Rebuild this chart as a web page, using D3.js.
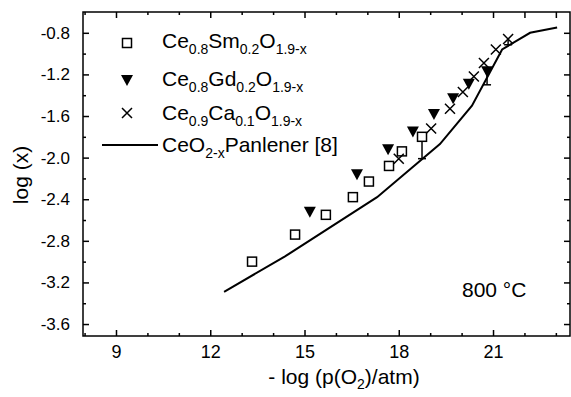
<!DOCTYPE html>
<html><head><meta charset="utf-8">
<script src="https://cdn.jsdelivr.net/npm/d3@7/dist/d3.min.js"></script>
<style>
body{margin:0;background:#fff;}
svg{display:block;font-family:"Liberation Sans",Arial,Helvetica,sans-serif;}
</style></head>
<body>
<script>
// ---- data ----
const smPoints = [[13.33,-3.00],[14.70,-2.74],[15.68,-2.55],[16.54,-2.38],[17.05,-2.23],[17.69,-2.08],[18.10,-1.94],[18.74,-1.80]];
const gdPoints = [[15.17,-2.52],[16.67,-2.16],[17.66,-1.92],[18.45,-1.75],[19.12,-1.58],[19.73,-1.43],[20.23,-1.29],[20.81,-1.17]];
const caPoints = [[18.00,-2.01],[19.03,-1.72],[19.63,-1.53],[20.04,-1.37],[20.39,-1.22],[20.71,-1.09],[21.09,-0.96],[21.48,-0.86]];
const panlenerLine = [[12.44,-3.29],[14.38,-2.95],[17.31,-2.38],[19.31,-1.87],[20.33,-1.50],[21.29,-0.96],[22.18,-0.80],[23.04,-0.75]];
// error bars: [x, y, yLow]
const errorBars = [[18.74,-1.80,-2.01],[20.81,-1.17,-1.30],[21.48,-0.86,-0.915]];
const xTickLabels = [9,12,15,18,21];
const yTickLabels = [-0.8,-1.2,-1.6,-2.0,-2.4,-2.8,-3.2,-3.6];
const xDomain = [7.95,23.45];
const yDomain = [-3.715,-0.6];

const W=571,H=397;
const m={l:83,t:12,r:570,b:336};
const svg=d3.select("body").append("svg").attr("width",W).attr("height",H);
const x=d3.scaleLinear().domain(xDomain).range([m.l,m.r]);
const y=d3.scaleLinear().domain(yDomain).range([m.b,m.t]);

// ticks (inward)
const xMinor=d3.range(8,24,1).filter(v=>!xTickLabels.includes(v));
const yMinor=d3.range(-3.4,-0.6,0.4).map(v=>+v.toFixed(1));
function axisG(axis,tr){return svg.append("g").attr("transform",tr).call(axis).call(g=>g.select(".domain").remove());}
const fmtY=d=>d.toFixed(1);
axisG(d3.axisBottom(x).tickValues(xTickLabels).tickSizeInner(-6).tickSizeOuter(0).tickPadding(9).tickFormat(d3.format("d")),`translate(0,${m.b})`)
  .call(g=>g.selectAll("text").attr("font-size",18).attr("fill","#000"));
axisG(d3.axisBottom(x).tickValues(xMinor).tickSizeInner(-3).tickSizeOuter(0).tickFormat(""),`translate(0,${m.b})`);
axisG(d3.axisTop(x).tickValues(xTickLabels.concat([22,23]).filter(v=>v<=23)).tickSizeInner(-6).tickSizeOuter(0).tickFormat(""),`translate(0,${m.t})`);
axisG(d3.axisTop(x).tickValues(xMinor.filter(v=>v!==22&&v!==23)).tickSizeInner(-3).tickSizeOuter(0).tickFormat(""),`translate(0,${m.t})`);
axisG(d3.axisLeft(y).tickValues(yTickLabels).tickSizeInner(-6).tickSizeOuter(0).tickPadding(13).tickFormat(fmtY),`translate(${m.l},0)`)
  .call(g=>g.selectAll("text").attr("font-size",17).attr("fill","#000"));
axisG(d3.axisLeft(y).tickValues(yMinor).tickSizeInner(-3).tickSizeOuter(0).tickFormat(""),`translate(${m.l},0)`);
axisG(d3.axisRight(y).tickValues(yTickLabels).tickSizeInner(-6).tickSizeOuter(0).tickFormat(""),`translate(${m.r},0)`);
axisG(d3.axisRight(y).tickValues(yMinor).tickSizeInner(-3).tickSizeOuter(0).tickFormat(""),`translate(${m.r},0)`);
svg.selectAll(".tick line").attr("stroke","#000").attr("stroke-width",1.5);

// frame
svg.append("rect").attr("x",m.l).attr("y",m.t).attr("width",m.r-m.l).attr("height",m.b-m.t)
  .attr("fill","none").attr("stroke","#000").attr("stroke-width",1.5);

// Panlener line
svg.append("path").datum(panlenerLine).attr("fill","none").attr("stroke","#000").attr("stroke-width",2)
  .attr("d",d3.line().x(d=>x(d[0])).y(d=>y(d[1])));

// error bars
const eb=svg.append("g").attr("stroke","#000").attr("stroke-width",1.5);
errorBars.forEach(d=>{
  eb.append("line").attr("x1",x(d[0])).attr("x2",x(d[0])).attr("y1",y(d[1])).attr("y2",y(d[2]));
  eb.append("line").attr("x1",x(d[0])-4).attr("x2",x(d[0])+4).attr("y1",y(d[2])).attr("y2",y(d[2]));
});

// markers
function square(g,cx,cy){g.append("rect").attr("x",cx-4.5).attr("y",cy-4.5).attr("width",9).attr("height",9).attr("fill","#fff").attr("stroke","#000").attr("stroke-width",1.5);}
function tri(g,cx,cy){g.append("path").attr("d",`M${cx-6},${cy-5}L${cx+6},${cy-5}L${cx},${cy+6}Z`).attr("fill","#000");}
function cross(g,cx,cy){g.append("path").attr("d",`M${cx-5},${cy-5}L${cx+5},${cy+5}M${cx-5},${cy+5}L${cx+5},${cy-5}`).attr("stroke","#000").attr("stroke-width",1.5).attr("fill","none");}
const mk=svg.append("g");
smPoints.forEach(d=>square(mk,x(d[0]),y(d[1])));
gdPoints.forEach(d=>tri(mk,x(d[0]),y(d[1])));
caPoints.forEach(d=>cross(mk,x(d[0]),y(d[1])));

// legend
const lg=svg.append("g");
square(lg,127,43); tri(lg,127,80); cross(lg,127,113);
lg.append("line").attr("x1",102).attr("x2",158).attr("y1",145).attr("y2",145).attr("stroke","#000").attr("stroke-width",2);
function chem(yb,parts){
  const t=lg.append("text").attr("x",162).attr("y",yb).attr("font-size",21).attr("fill","#000");
  let sub=false;
  parts.forEach(p=>{
    const isSub=p.startsWith("_");
    const txt=isSub?p.slice(1):p;
    const ts=t.append("tspan").text(txt);
    if(isSub){ts.attr("font-size",14).attr("dy",sub?0:6);sub=true;}
    else{ts.attr("dy",sub?-6:0);sub=false;}
  });
}
chem(48,["Ce","_0.8","Sm","_0.2","O","_1.9-x"]);
chem(86,["Ce","_0.8","Gd","_0.2","O","_1.9-x"]);
chem(120,["Ce","_0.9","Ca","_0.1","O","_1.9-x"]);
chem(152,["CeO","_2-x","Panlener [8]"]);

// annotation
svg.append("text").attr("x",462).attr("y",297).attr("font-size",21).attr("fill","#000").text("800 °C");

// axis titles
const xt=svg.append("text").attr("x",(265+423)/2).attr("y",384).attr("text-anchor","middle").attr("font-size",21).attr("fill","#000");
xt.append("tspan").text("- log (p(O");
xt.append("tspan").text("2").attr("font-size",14).attr("dy",5);
xt.append("tspan").text(")/atm)").attr("dy",-5);
svg.append("text").attr("transform","translate(28,175) rotate(-90)").attr("text-anchor","middle").attr("font-size",21).attr("fill","#000").text("log (x)");
</script>
</body></html>
